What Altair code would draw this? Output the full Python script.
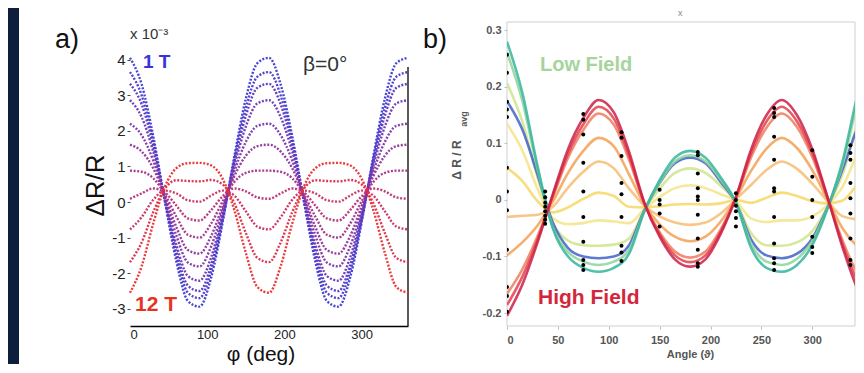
import altair as alt
import pandas as pd

# ---------------- panel a data (phi in deg, dR/R in 1e-3) ----------------
phi = [0, 15, 30, 45, 60, 75, 90, 105, 120, 135, 150, 165, 180,
       195, 210, 225, 240, 255, 270, 285, 300, 315, 330, 345, 360]

a_s01 = [4.05, 3.31, 1.86, 0.04, -1.67, -2.78, -2.94, -2.13, -0.57, 1.27, 2.90, 3.90, 4.05,
         3.31, 1.86, 0.04, -1.67, -2.78, -2.94, -2.13, -0.57, 1.27, 2.90, 3.90, 4.05]
a_s02 = [3.65, 3.00, 1.71, 0.06, -1.51, -2.55, -2.70, -1.94, -0.50, 1.18, 2.64, 3.52, 3.65,
         3.00, 1.71, 0.06, -1.51, -2.55, -2.70, -1.94, -0.50, 1.18, 2.64, 3.52, 3.65]
a_s03 = [3.32, 2.75, 1.59, 0.08, -1.38, -2.35, -2.50, -1.78, -0.44, 1.11, 2.42, 3.21, 3.32,
         2.75, 1.59, 0.08, -1.38, -2.35, -2.50, -1.78, -0.44, 1.11, 2.42, 3.21, 3.32]
a_s04 = [2.86, 2.39, 1.42, 0.11, -1.20, -2.08, -2.21, -1.56, -0.35, 1.00, 2.12, 2.77, 2.86,
         2.39, 1.42, 0.11, -1.20, -2.08, -2.21, -1.56, -0.35, 1.00, 2.12, 2.77, 2.86]
a_s05 = [2.20, 1.88, 1.17, 0.15, -0.94, -1.70, -1.81, -1.25, -0.23, 0.85, 1.69, 2.14, 2.20,
         1.88, 1.17, 0.15, -0.94, -1.70, -1.81, -1.25, -0.23, 0.85, 1.69, 2.14, 2.20]
a_s06 = [1.61, 1.42, 0.95, 0.18, -0.70, -1.35, -1.45, -0.96, -0.12, 0.72, 1.30, 1.57, 1.61,
         1.42, 0.95, 0.18, -0.70, -1.35, -1.45, -0.96, -0.12, 0.72, 1.30, 1.57, 1.61]
a_s07 = [0.88, 0.85, 0.67, 0.22, -0.41, -0.92, -1.00, -0.61, 0.02, 0.56, 0.82, 0.88, 0.88,
         0.85, 0.67, 0.22, -0.41, -0.92, -1.00, -0.61, 0.02, 0.56, 0.82, 0.88, 0.88]
a_s08 = [0.09, 0.24, 0.38, 0.27, -0.10, -0.46, -0.52, -0.23, 0.16, 0.38, 0.30, 0.13, 0.09,
         0.24, 0.38, 0.27, -0.10, -0.46, -0.52, -0.23, 0.16, 0.38, 0.30, 0.13, 0.09]
a_s09 = [-0.77, -0.43, 0.06, 0.32, 0.24, 0.05, 0.01, 0.18, 0.32, 0.18, -0.26, -0.69, -0.77,
         -0.43, 0.06, 0.32, 0.24, 0.05, 0.01, 0.18, 0.32, 0.18, -0.26, -0.69, -0.77]
a_s10 = [-1.69, -1.14, -0.29, 0.37, 0.61, 0.59, 0.58, 0.62, 0.49, -0.03, -0.87, -1.57, -1.69,
         -1.14, -0.29, 0.37, 0.61, 0.59, 0.58, 0.62, 0.49, -0.03, -0.87, -1.57, -1.69]
a_s11 = [-2.55, -1.81, -0.61, 0.42, 0.95, 1.09, 1.10, 1.03, 0.65, -0.22, -1.43, -2.39, -2.55,
         -1.81, -0.61, 0.42, 0.95, 1.09, 1.10, 1.03, 0.65, -0.22, -1.43, -2.39, -2.55]

a_names = ["1 T", "2 T", "3 T", "4 T", "5 T", "6 T", "7 T", "8 T", "9 T", "10 T", "12 T"]
a_colors = ["#3b3bd4", "#4839cb", "#5838c2", "#6a36b6", "#7c35a9", "#8f339b",
            "#a3318b", "#b72f79", "#cb2e63", "#dc2e4b", "#ea3030"]
a_series = [a_s01, a_s02, a_s03, a_s04, a_s05, a_s06, a_s07, a_s08, a_s09, a_s10, a_s11]

# ---------------- panel b data (theta in deg, dR/Ravg) ----------------
theta = [0, 15, 30, 45, 60, 75, 90, 105, 120, 135, 150, 165, 180,
         195, 210, 225, 240, 255, 270, 285, 300, 315, 330, 345, 360]

b_ygreen = [0.207, 0.139, 0.040, -0.041, -0.072, -0.080, -0.081, -0.079, -0.068, -0.018, 0.020, 0.048, 0.056,
            0.048, 0.025, -0.004, -0.059, -0.080, -0.081, -0.075, -0.055, -0.012, 0.047, 0.138, 0.207]
b_pyellow = [0.135, 0.088, 0.020, -0.032, -0.043, -0.041, -0.036, -0.038, -0.041, -0.016, 0.005, 0.021, 0.026,
             0.021, 0.010, -0.002, -0.033, -0.039, -0.036, -0.036, -0.029, -0.009, 0.024, 0.085, 0.135]
b_yellow = [0.057, 0.034, -0.002, -0.022, -0.013, 0.002, 0.013, 0.007, -0.012, -0.013, -0.011, -0.008, -0.007,
            -0.008, -0.006, 0.000, -0.005, 0.004, 0.013, 0.007, -0.002, -0.006, -0.001, 0.029, 0.057]
b_lorange = [-0.030, -0.028, -0.026, -0.012, 0.022, 0.050, 0.068, 0.056, 0.020, -0.010, -0.029, -0.040, -0.044,
             -0.040, -0.024, 0.001, 0.027, 0.053, 0.068, 0.055, 0.029, -0.002, -0.029, -0.034, -0.030]
b_orange = [-0.098, -0.075, -0.045, -0.003, 0.048, 0.087, 0.110, 0.095, 0.045, -0.008, -0.043, -0.065, -0.073,
            -0.065, -0.038, 0.003, 0.052, 0.091, 0.110, 0.092, 0.053, 0.001, -0.051, -0.083, -0.098]
b_blue = [0.175, 0.125, 0.045, -0.040, -0.085, -0.100, -0.103, -0.100, -0.080, -0.018, 0.030, 0.065, 0.075,
          0.065, 0.032, -0.005, -0.070, -0.098, -0.103, -0.095, -0.068, -0.013, 0.055, 0.130, 0.175]
b_lgreen = [0.261, 0.176, 0.055, -0.048, -0.092, -0.109, -0.115, -0.109, -0.088, -0.019, 0.031, 0.068, 0.079,
            0.068, 0.036, -0.005, -0.078, -0.109, -0.115, -0.104, -0.073, -0.014, 0.064, 0.176, 0.261]
b_green = [0.280, 0.190, 0.060, -0.050, -0.100, -0.120, -0.127, -0.120, -0.095, -0.020, 0.035, 0.075, 0.087,
           0.075, 0.040, -0.005, -0.085, -0.120, -0.127, -0.115, -0.080, -0.015, 0.070, 0.190, 0.280]
b_salmon = [-0.166, -0.123, -0.064, 0.005, 0.075, 0.124, 0.153, 0.133, 0.071, -0.006, -0.057, -0.091, -0.102,
            -0.091, -0.052, 0.004, 0.076, 0.128, 0.153, 0.129, 0.076, 0.003, -0.073, -0.132, -0.166]
b_red = [-0.186, -0.136, -0.070, 0.008, 0.082, 0.134, 0.165, 0.144, 0.078, -0.006, -0.061, -0.098, -0.110,
         -0.098, -0.056, 0.005, 0.083, 0.139, 0.165, 0.139, 0.083, 0.004, -0.079, -0.146, -0.186]
b_crimson = [-0.205, -0.150, -0.075, 0.010, 0.090, 0.145, 0.177, 0.155, 0.085, -0.005, -0.065, -0.105, -0.118,
             -0.105, -0.060, 0.005, 0.090, 0.150, 0.177, 0.150, 0.090, 0.005, -0.085, -0.160, -0.205]

b_names = ["b01", "b02", "b03", "b04", "b05", "b06", "b07", "b08", "b09", "b10", "b11"]
b_colors = ["#cfe58a", "#f3e48a", "#f6d764", "#f7bc72", "#f3a055", "#4161c9",
            "#8fd39a", "#35b59c", "#ee7d5e", "#e2414c", "#cc1f45"]
b_series = [b_ygreen, b_pyellow, b_yellow, b_lorange, b_orange, b_blue,
            b_lgreen, b_green, b_salmon, b_red, b_crimson]

# measured points (black dots)
dot_angles = [0, 37.5, 75, 112.5, 150, 187.5, 225, 262.5, 300, 337.5]
dots_000 = [0.257, 0.225, 0.174, 0.160, 0.147, 0.057, 0.015, -0.018, -0.088, -0.154, -0.170, -0.198]
dots_037 = [0.015, 0.005, -0.005, -0.012, -0.020, -0.028, -0.035, -0.042]
dots_075 = [0.152, 0.142, 0.116, 0.066, 0.015, -0.030, -0.074, -0.106, -0.115, -0.124]
dots_112 = [0.120, 0.110, 0.078, 0.030, 0.010, -0.030, -0.081, -0.093, -0.108]
dots_150 = [0.018, 0.000, -0.008, -0.024, -0.047]
dots_187 = [0.085, 0.079, 0.047, 0.021, 0.006, 0.000, -0.026, -0.068, -0.088, -0.112, -0.118]
dots_225 = [0.012, 0.000, -0.010, -0.020, -0.032, -0.047]
dots_262 = [0.163, 0.154, 0.147, 0.112, 0.071, 0.021, 0.015, -0.030, -0.077, -0.103, -0.112, -0.124]
dots_300 = [0.088, 0.041, 0.000, -0.030, -0.065, -0.083, -0.094]
dots_337 = [0.097, 0.083, 0.071, 0.030, 0.003, -0.024, -0.068, -0.106, -0.115]
dot_groups = [dots_000, dots_037, dots_075, dots_112, dots_150,
              dots_187, dots_225, dots_262, dots_300, dots_337]

# ---------------- tables ----------------
rows_a = []
for name, vals in zip(a_names, a_series):
    for p, v in zip(phi, vals):
        rows_a.append({"phi": p, "v": v, "s": name})
df_a = pd.DataFrame(rows_a)

rows_b = []
for name, vals in zip(b_names, b_series):
    for t, v in zip(theta, vals):
        rows_b.append({"th": t, "v": v, "s": name})
df_b = pd.DataFrame(rows_b)

rows_d = []
for ang, vals in zip(dot_angles, dot_groups):
    for v in vals:
        rows_d.append({"th": ang, "v": v})
df_d = pd.DataFrame(rows_d)

one = pd.DataFrame({"k": [0]})
FONT = "Liberation Sans"
NAVY = "#0e1f3e"

WA, H = 278, 304
WB = 348

MINUS_FIX = "replace(datum.label, '\u2212', '-')"

# ---------------- panel a ----------------
xa = alt.X("phi:Q", scale=alt.Scale(domain=[0, 360], nice=False, zero=False),
           axis=alt.Axis(values=[0, 100, 200, 300], title=None, grid=False,
                         domainColor="black", domainWidth=1.3, ticks=False,
                         labelFont=FONT, labelFontSize=13, labelColor="#222", labelPadding=2))
ya = alt.Y("v:Q", scale=alt.Scale(domain=[-3.483, 5.056], nice=False, zero=False),
           axis=alt.Axis(values=[-3, -2, -1, 0, 1, 2, 3, 4], title="ΔR/R", grid=False,
                         domain=False, tickColor="#444", tickSize=3, labelExpr=MINUS_FIX,
                         labelFont=FONT, labelFontSize=15, labelColor="#222", labelPadding=2,
                         titleFont=FONT, titleFontSize=26, titleFontWeight="normal",
                         titleColor="#111", titlePadding=3, titleY=163))

navy = alt.Chart(one).mark_rect(color=NAVY).encode(
    x=alt.value(-122), x2=alt.value(-111), y=alt.value(-14), y2=alt.value(342))
rborder = alt.Chart(one).mark_rule(color="black", strokeWidth=1.3).encode(
    x=alt.value(WA), y=alt.value(45), y2=alt.value(H))
lines_a = alt.Chart(df_a).mark_line(strokeDash=[2, 1.6], strokeWidth=2.4,
                                    interpolate="monotone", opacity=0.95).encode(
    x=xa, y=ya,
    color=alt.Color("s:N", scale=alt.Scale(domain=a_names, range=a_colors), legend=None))


def label(txt, x, y, size, color="#111", weight="normal", align="left", angle=0, font=FONT):
    return alt.Chart(one).mark_text(text=txt, align=align, baseline="middle", font=font,
                                    fontSize=size, fontWeight=weight, color=color,
                                    angle=angle).encode(x=alt.value(x), y=alt.value(y))


panel_a = alt.layer(
    navy, rborder, lines_a,
    label("a)", -75, 18, 27),
    label("x 10⁻³", 0, 12, 15, color="#333"),
    label("β=0°", 173, 43, 21, color="#333"),
    label("1 T", 13, 40, 19, color="#3535d6", weight="bold"),
    label("12 T", 5, 283, 21, color="#e8321e", weight="bold"),
    label("φ (deg)", 131, 333, 21, color="#111", align="center"),
).properties(width=WA, height=H)

# ---------------- panel b ----------------
xb = alt.X("th:Q", scale=alt.Scale(domain=[0, 342], nice=False, zero=False),
           axis=alt.Axis(values=[0, 50, 100, 150, 200, 250, 300], title="Angle (ϑ)",
                         grid=False, domain=False, tickColor="#bbb", tickSize=3,
                         labelFont=FONT, labelFontSize=11, labelFontWeight="bold",
                         labelColor="#555", labelPadding=5,
                         titleFont=FONT, titleFontSize=11, titleFontWeight="bold",
                         titleColor="#555", titlePadding=3, titleX=183))
yb = alt.Y("v:Q", scale=alt.Scale(domain=[-0.223, 0.315], nice=False, zero=False),
           axis=alt.Axis(values=[-0.2, -0.1, 0, 0.1, 0.2, 0.3], title=None, grid=False,
                         domain=False, tickColor="#bbb", tickSize=3,
                         labelExpr="datum.value == 0 ? '0' : replace(format(datum.value, '.1f'), '\u2212', '-')",
                         labelFont=FONT, labelFontSize=11, labelFontWeight="bold",
                         labelColor="#555", labelPadding=3))

frame_b = alt.Chart(one).mark_rect(filled=False, stroke="#cfcfcf", strokeWidth=1).encode(
    x=alt.value(0), x2=alt.value(WB), y=alt.value(0), y2=alt.value(H))
lines_b = alt.Chart(df_b).mark_line(strokeWidth=2.6, interpolate="monotone", opacity=0.85,
                                    clip=True).encode(
    x=xb, y=yb,
    color=alt.Color("s:N", scale=alt.Scale(domain=b_names, range=b_colors), legend=None))
dots_b = alt.Chart(df_d).mark_circle(size=16, color="black", opacity=1, clip=True).encode(
    x=alt.X("th:Q"), y=alt.Y("v:Q"))

panel_b = alt.layer(
    frame_b, lines_b, dots_b,
    label("b)", -84, 18, 27),
    label("x", 171, -9, 9, color="#888"),
    label("Low Field", 33, 43, 20, color="#a6d49b", weight="bold"),
    label("High Field", 31, 276, 21, color="#d3263a", weight="bold"),
    label("Δ R / R", -50, 138, 12, color="#555", weight="bold", align="center", angle=270),
    label("avg", -43, 97, 9, color="#555", weight="bold", align="center", angle=270),
).properties(width=WB, height=H)

chart = alt.hconcat(panel_a, panel_b, spacing=99, bounds="flush").resolve_scale(
    color="independent").properties(padding=0, background="white").configure_view(strokeWidth=0)

chart.save("out.html", embed_options={"renderer": "svg", "actions": False})
